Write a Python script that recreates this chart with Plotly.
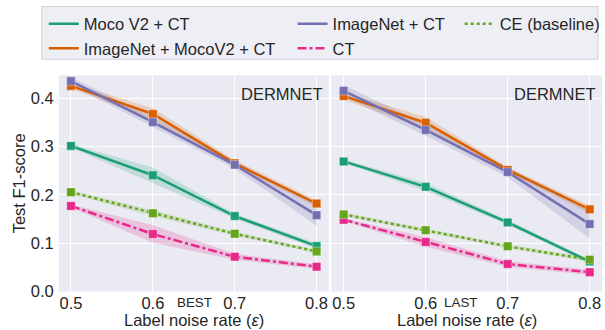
import plotly.graph_objects as go

# ---------------- data ----------------
noise_rates = [0.5, 0.6, 0.7, 0.8]
tick_labels = ["0.5", "0.6", "0.7", "0.8"]
y_ticks = [0.0, 0.1, 0.2, 0.3, 0.4]

series_names = ["Moco V2 + CT", "ImageNet + MocoV2 + CT", "ImageNet + CT", "CT", "CE (baseline)"]
series_colors = ["#1b9e77", "#d95f02", "#7570b3", "#e7298a", "#66a61e"]
series_dash = ["solid", "solid", "solid", "dashdot", "dot"]

# BEST panel (mean, band half-width)
best_moco = [0.301, 0.2405, 0.156, 0.094]
best_moco_err = [0.004, 0.016, 0.005, 0.006]
best_in_moco = [0.425, 0.367, 0.265, 0.182]
best_in_moco_err = [0.006, 0.012, 0.007, 0.007]
best_in = [0.435, 0.350, 0.262, 0.158]
best_in_err = [0.008, 0.010, 0.008, 0.022]
best_ct = [0.177, 0.119, 0.072, 0.0515]
best_ct_err = [0.003, 0.018, 0.006, 0.005]
best_ce = [0.2055, 0.162, 0.1195, 0.083]
best_ce_err = [0.004, 0.006, 0.004, 0.004]

# LAST panel (mean, band half-width)
last_moco = [0.269, 0.2165, 0.143, 0.062]
last_moco_err = [0.004, 0.008, 0.005, 0.004]
last_in_moco = [0.404, 0.349, 0.2515, 0.170]
last_in_moco_err = [0.008, 0.012, 0.006, 0.008]
last_in = [0.415, 0.334, 0.247, 0.1395]
last_in_err = [0.012, 0.012, 0.010, 0.030]
last_ct = [0.1485, 0.1025, 0.057, 0.040]
last_ct_err = [0.003, 0.010, 0.006, 0.005]
last_ce = [0.1595, 0.127, 0.0935, 0.066]
last_ce_err = [0.004, 0.004, 0.004, 0.004]

panel_titles = ["BEST", "LAST"]
dataset_name = "DERMNET"
y_title = "Test F1-score"
x_title = "Label noise rate (<i>ε</i>)"

panels = [
    [(best_moco, best_moco_err), (best_in_moco, best_in_moco_err), (best_in, best_in_err),
     (best_ct, best_ct_err), (best_ce, best_ce_err)],
    [(last_moco, last_moco_err), (last_in_moco, last_in_moco_err), (last_in, last_in_err),
     (last_ct, last_ct_err), (last_ce, last_ce_err)],
]

# ---------------- layout helpers ----------------
W, H = 605, 330
H_EFF = 322.0  # observed effective vertical extent of the captured page
Y_OFF = 1.5
FONT = "Liberation Sans, Arial, sans-serif"
TXT = "#262626"


def px(x):
    return x / W


def py(y):
    return 1 - (y + Y_OFF) / H_EFF


def rgba(hexc, a):
    h = hexc.lstrip("#")
    r, g, b = int(h[0:2], 16), int(h[2:4], 16), int(h[4:6], 16)
    return f"rgba({r},{g},{b},{a})"


fig = go.Figure()

axes = [("x", "y"), ("x2", "y2")]
for p, (xa, ya) in enumerate(axes):
    # bands
    for i, (mean, err) in enumerate(panels[p]):
        upper = [m + e for m, e in zip(mean, err)]
        lower = [m - e for m, e in zip(mean, err)]
        fig.add_trace(go.Scatter(x=noise_rates, y=upper, mode="lines", line=dict(width=0),
                                 xaxis=xa, yaxis=ya, showlegend=False, hoverinfo="skip"))
        fig.add_trace(go.Scatter(x=noise_rates, y=lower, mode="lines", line=dict(width=0),
                                 fill="tonexty", fillcolor=rgba(series_colors[i], 0.2),
                                 xaxis=xa, yaxis=ya, showlegend=False, hoverinfo="skip"))
    # lines
    for i, (mean, err) in enumerate(panels[p]):
        fig.add_trace(go.Scatter(
            x=noise_rates, y=mean, mode="lines+markers", name=series_names[i],
            line=dict(color=series_colors[i], width=2.5, dash=series_dash[i]),
            marker=dict(symbol="square", size=8.5, color=series_colors[i],
                        line=dict(color="rgba(255,255,255,0.6)", width=0.6)),
            xaxis=xa, yaxis=ya, showlegend=False))

# legend-only traces (three columns as in the reference)
legend_cols = {0: "legend", 1: "legend", 2: "legend2", 3: "legend2", 4: "legend3"}
for i in range(5):
    fig.add_trace(go.Scatter(
        x=[None], y=[None], mode="lines", name=series_names[i],
        line=dict(color=series_colors[i], width=2.5, dash=series_dash[i]),
        legend=legend_cols[i], showlegend=True))

xdom1 = [px(59), px(330.5)]
xdom2 = [px(333), 1.0]
ydom = [py(291), py(74)]
xr = [0.485, 0.815]
yr = [0.0, 0.447]

common_x = dict(range=xr, tickvals=noise_rates, ticktext=tick_labels, showgrid=True,
                gridcolor="white", gridwidth=1, zeroline=False, showline=False,
                ticks="", ticklen=0, tickfont=dict(size=16.5, color=TXT, family=FONT))
common_y = dict(range=yr, tickvals=y_ticks, showgrid=True, gridcolor="white", gridwidth=1,
                zeroline=False, showline=False, ticks="", ticklen=0,
                tickfont=dict(size=16.5, color=TXT, family=FONT))

leg_common = dict(bgcolor="rgba(0,0,0,0)", borderwidth=0, xanchor="left", yanchor="top",
                  font=dict(size=16.5, color=TXT, family=FONT), orientation="v",
                  tracegroupgap=0, itemwidth=30, traceorder="normal")

fig.update_layout(
    width=W, height=H,
    margin=dict(l=0, r=0, t=0, b=0),
    paper_bgcolor="white", plot_bgcolor="#eaeaf2",
    font=dict(family=FONT, color=TXT),
    xaxis=dict(domain=xdom1, anchor="y", **common_x),
    yaxis=dict(domain=ydom, anchor="x", tickformat=".1f", ticklabelstandoff=4, **common_y),
    xaxis2=dict(domain=xdom2, anchor="y2", **common_x),
    yaxis2=dict(domain=ydom, anchor="x2", showticklabels=False, **common_y),
    legend=dict(x=px(44), y=py(5), **leg_common),
    legend2=dict(x=px(294), y=py(5), **leg_common),
    legend3=dict(x=px(462), y=py(5), **leg_common),
    showlegend=True,
)

# legend frame
fig.add_shape(type="rect", xref="paper", yref="paper", x0=px(42), x1=px(601), y0=py(58), y1=py(5),
              fillcolor="rgba(234,234,242,0.8)", line=dict(color="#d0d0d8", width=1), layer="below")

annotations = []
for xr_px in (327, 601):
    annotations.append(dict(text=dataset_name, x=px(xr_px), y=py(93), xref="paper", yref="paper",
                            xanchor="right", yanchor="middle", showarrow=False,
                            font=dict(size=16.5, color=TXT, family=FONT)))
annotations.append(dict(text=panel_titles[0], x=px(195), y=py(302), xref="paper", yref="paper",
                        xanchor="center", yanchor="middle", showarrow=False,
                        font=dict(size=13.4, color=TXT, family=FONT)))
annotations.append(dict(text=panel_titles[1], x=px(463), y=py(302), xref="paper", yref="paper",
                        xanchor="center", yanchor="middle", showarrow=False,
                        font=dict(size=13.4, color=TXT, family=FONT)))
annotations.append(dict(text=x_title, x=px(195), y=py(319.5), xref="paper", yref="paper",
                        xanchor="center", yanchor="middle", showarrow=False,
                        font=dict(size=16.5, color=TXT, family=FONT)))
annotations.append(dict(text=x_title, x=px(469), y=py(319.5), xref="paper", yref="paper",
                        xanchor="center", yanchor="middle", showarrow=False,
                        font=dict(size=16.5, color=TXT, family=FONT)))
annotations.append(dict(text=y_title, x=px(20), y=py(182.5), xref="paper", yref="paper",
                        xanchor="center", yanchor="middle", showarrow=False, textangle=-90,
                        font=dict(size=16.5, color=TXT, family=FONT)))
fig.update_layout(annotations=annotations)

fig.write_html("out.html", config={"displayModeBar": False},
               post_script="document.body.style.margin='0px';document.body.style.overflow='hidden';")
